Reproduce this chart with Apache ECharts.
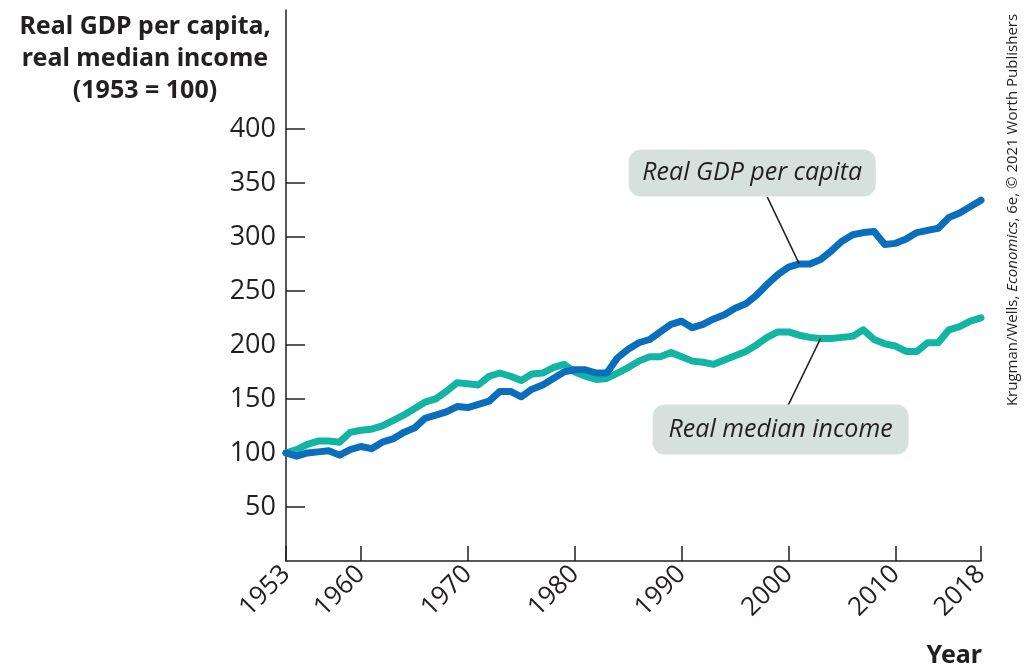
<!DOCTYPE html>
<html>
<head>
<meta charset="utf-8">
<script src="https://cdn.jsdelivr.net/npm/echarts@6/dist/echarts.min.js"></script>
<style>
  html, body { margin: 0; padding: 0; background: #fff; }
  #chart { width: 1028px; height: 667px; }
</style>
</head>
<body>
<div id="chart"></div>
<script>
// years 1953..2018
const years = []
for (let y = 1953; y <= 2018; y++) years.push(y)

// Real GDP per capita (1953 = 100)
const gdpPerCapita = [
  100, 97, 100, 101, 102, 98, 103, 106, 104, 110,
  113, 119, 123, 132, 135, 138, 143, 142, 145, 148,
  157, 157, 152, 159, 163, 169, 175, 177, 177, 174,
  174, 188, 196, 202, 205, 212, 219, 222, 216, 219,
  224, 228, 234, 238, 246, 256, 265, 272, 275, 275,
  279, 287, 296, 302, 304, 305, 293, 294, 298, 304,
  306, 308, 318, 322, 328, 334
]

// Real median income (1953 = 100)
const medianIncome = [
  100, 103, 108, 111, 111, 110, 119, 121, 122, 125,
  130, 135, 141, 147, 150, 157, 165, 164, 163, 171,
  174, 171, 167, 173, 174, 179, 182, 175, 171, 168,
  169, 174, 179, 185, 189, 189, 193, 189, 185, 184,
  182, 186, 190, 194, 200, 207, 212, 212, 209, 207,
  206, 206, 207, 208, 214, 205, 201, 199, 194, 194,
  202, 202, 214, 217, 222, 225
]

const yTicks = [50, 100, 150, 200, 250, 300, 350, 400]
const xTicks = [1953, 1960, 1970, 1980, 1990, 2000, 2010, 2018]

const gdpColor = '#0a6ebd'
const incomeColor = '#12b4a4'
const boxColor = '#d6e1de'
const inkColor = '#231f20'

const chart = echarts.init(document.getElementById('chart'))

const option = {
  animation: false,
  title: [
    {
      text: 'Real GDP per capita,\nreal median income\n(1953 = 100)',
      left: 140,
      top: 6,
      textAlign: 'center',
      textStyle: {
        fontFamily: 'Noto Sans',
        fontWeight: 'bold',
        fontSize: 25,
        lineHeight: 32,
        color: inkColor
      }
    },
    {
      text: 'Year',
      right: 41,
      top: 638,
      textStyle: {
        fontFamily: 'Noto Sans',
        fontWeight: 'bold',
        fontSize: 25,
        color: inkColor
      }
    }
  ],
  grid: {
    left: 286,
    right: 47,
    top: 10,
    bottom: 106
  },
  xAxis: {
    type: 'value',
    min: 1953,
    max: 2018,
    splitLine: { show: false },
    axisLine: { lineStyle: { color: inkColor, width: 1.5 } },
    axisTick: {
      inside: true,
      length: 15,
      customValues: xTicks,
      lineStyle: { color: inkColor, width: 1.5 }
    },
    axisLabel: {
      customValues: xTicks,
      rotate: 45,
      margin: 9,
      fontFamily: 'Open Sans',
      fontSize: 26,
      color: inkColor,
      formatter: v => String(v)
    }
  },
  yAxis: {
    type: 'value',
    min: 0,
    max: 510,
    splitLine: { show: false },
    axisLine: { show: true, lineStyle: { color: inkColor, width: 1.5 } },
    axisTick: {
      show: true,
      inside: true,
      length: 19,
      customValues: yTicks,
      lineStyle: { color: inkColor, width: 1.5 }
    },
    axisLabel: {
      customValues: yTicks,
      margin: 10,
      fontFamily: 'Open Sans',
      fontSize: 27,
      color: inkColor
    }
  },
  series: [
    {
      name: 'Real median income',
      type: 'line',
      data: years.map((y, i) => [y, medianIncome[i]]),
      showSymbol: false,
      lineStyle: { color: incomeColor, width: 7, join: 'round', cap: 'round' },
      z: 2
    },
    {
      name: 'Real GDP per capita',
      type: 'line',
      data: years.map((y, i) => [y, gdpPerCapita[i]]),
      showSymbol: false,
      lineStyle: { color: gdpColor, width: 7, join: 'round', cap: 'round' },
      z: 3
    }
  ]
}
chart.setOption(option)

// callout boxes, anchored on a data point through the axes
function callout(seriesIndex, year, values, text, dx, dy, w, h, lx, ly) {
  const p = chart.convertToPixel({ seriesIndex: seriesIndex }, [year, values[year - 1953]])
  return [
    {
      type: 'line',
      shape: { x1: p[0], y1: p[1], x2: p[0] + lx, y2: p[1] + ly },
      style: { stroke: inkColor, lineWidth: 1.5 },
      z: 10
    },
    {
      type: 'rect',
      shape: { x: p[0] + dx - w / 2, y: p[1] + dy - h / 2, width: w, height: h, r: 12 },
      style: { fill: boxColor },
      z: 11
    },
    {
      type: 'text',
      x: p[0] + dx,
      y: p[1] + dy,
      style: {
        text: text,
        align: 'center',
        verticalAlign: 'middle',
        fontFamily: 'Open Sans',
        fontStyle: 'italic',
        fontSize: 25,
        fill: inkColor
      },
      z: 12
    }
  ]
}

const graphics = []
  .concat(callout(1, 2001, gdpPerCapita, 'Real GDP per capita', -47, -91, 247, 47, -32, -67))
  .concat(callout(0, 2003, medianIncome, 'Real median income', -40, 91, 256, 50, -33, 68))

// source credit, vertical on the right
graphics.push({
  type: 'text',
  x: 1013,
  y: 210,
  rotation: Math.PI / 2,
  style: {
    rich: {
      n: { fontFamily: 'Open Sans', fontSize: 15, fill: inkColor },
      i: { fontFamily: 'Open Sans', fontSize: 15, fontStyle: 'italic', fill: inkColor }
    },
    text: '{n|Krugman/Wells, }{i|Economics}{n|, 6e, \u00a9 2021 Worth Publishers}',
    align: 'center',
    verticalAlign: 'middle'
  }
})

chart.setOption({ graphic: graphics })
</script>
</body>
</html>
